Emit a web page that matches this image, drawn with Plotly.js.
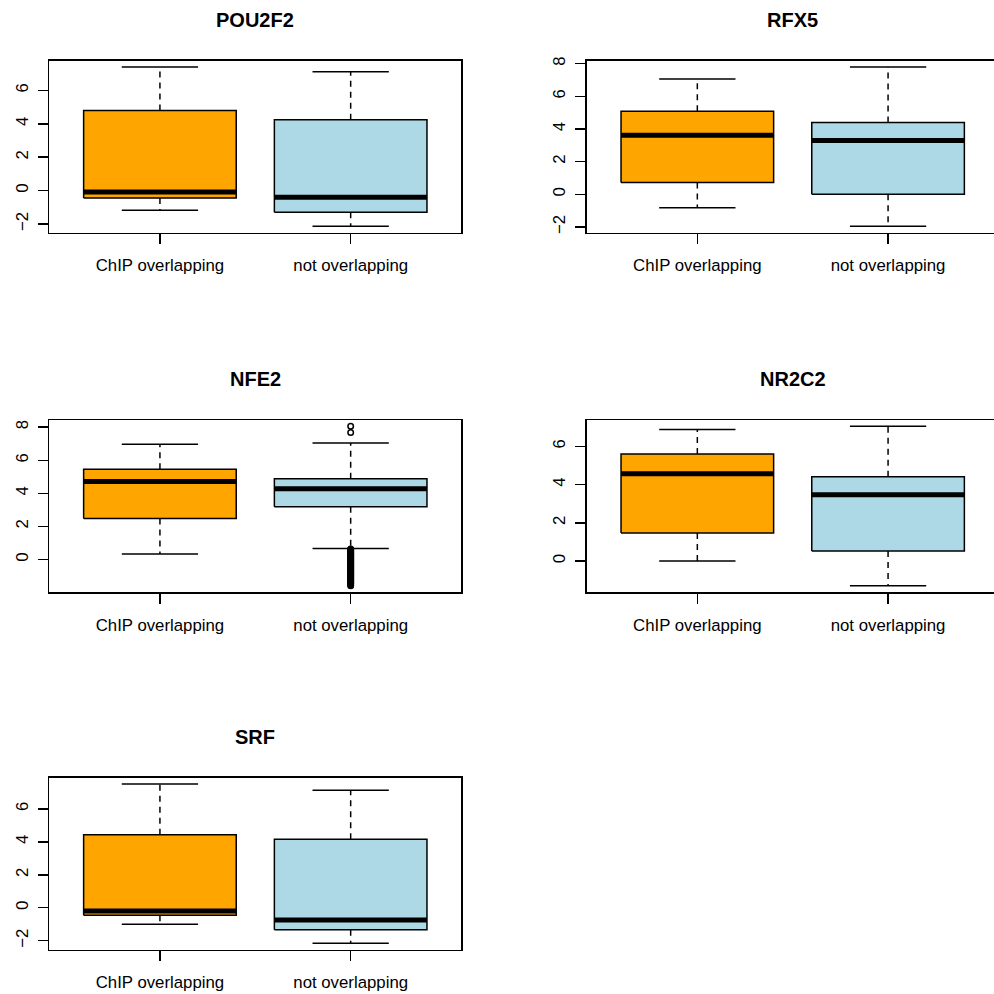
<!DOCTYPE html>
<html>
<head>
<meta charset="utf-8">
<script src="https://cdn.plot.ly/plotly-3.0.1.min.js"></script>
<style>
  html, body { margin: 0; padding: 0; background: #ffffff; }
  #chart { width: 994px; height: 994px; }
</style>
</head>
<body>
<div id="chart"></div>
<script>
// Expression of motif sites, split by ChIP overlap, for five transcription factors.
const factors = ["POU2F2", "RFX5", "NFE2", "NR2C2", "SRF"];
const groups = ["ChIP overlapping", "not overlapping"];
const groupColors = ["#FFA500", "#ADD8E6"];

// Box statistics per factor: [ChIP overlapping, not overlapping]
const lowerWhisker = [[-1.18, -2.14], [-0.83, -1.96], [0.33, 0.67], [0.00, -1.29], [-1.01, -2.16]];
const lowerHinge   = [[-0.44, -1.30], [0.72, 0.00], [2.48, 3.19], [1.47, 0.52], [-0.46, -1.33]];
const medians      = [[-0.08, -0.40], [3.62, 3.29], [4.71, 4.28], [4.57, 3.47], [-0.20, -0.75]];
const upperHinge   = [[4.80, 4.24], [5.09, 4.40], [5.45, 4.89], [5.60, 4.41], [4.42, 4.16]];
const upperWhisker = [[7.40, 7.12], [7.06, 7.79], [6.97, 7.05], [6.89, 7.05], [7.50, 7.13]];

// Outlying points (only NFE2, not overlapping, has any)
const nfe2NotOutliers = [8.05, 7.68,
  0.64, 0.60, 0.56, 0.52, 0.47, 0.43, 0.39, 0.34, 0.30, 0.27, 0.22, 0.18, 0.13, 0.10,
  0.05, 0.01, -0.03, -0.08, -0.12, -0.15, -0.20, -0.25, -0.28, -0.33, -0.37, -0.41,
  -0.46, -0.50, -0.53, -0.58, -0.62, -0.67, -0.71, -0.74, -0.79, -0.83, -0.88, -0.92,
  -0.95, -1.00, -1.04, -1.09, -1.13, -1.17, -1.21, -1.26, -1.30, -1.34, -1.39, -1.43,
  -1.47, -1.52, -1.58];
const outliers = [[[], []], [[], []], [[], nfe2NotOutliers], [[], []], [[], []]];

// Y tick labels per factor
const yTicks = [[-2, 0, 2, 4, 6], [-2, 0, 2, 4, 6, 8], [0, 2, 4, 6, 8], [0, 2, 4, 6], [-2, 0, 2, 4, 6]];

// ---- layout geometry (pixels) ----
const W = 994, H = 994;
const colLeft = [49.3, 586.7];
const plotW = 412;
const rowTop = [60.7, 420.0, 777.7];
const plotH = 172;
const xLo = 0.42, xHi = 2.58;
const pxPerUnit = plotW / (xHi - xLo);
const boxHalf = 0.4, capHalf = 0.2;

const tickFont = { family: "Liberation Sans, Arial, sans-serif", size: 16.8, color: "#000000" };
const lineW = 1.5;

const traces = [];
const layout = {
  width: W, height: H,
  margin: { l: 0, r: 0, t: 0, b: 0 },
  paper_bgcolor: "#ffffff",
  plot_bgcolor: "#ffffff",
  showlegend: false,
  annotations: []
};

factors.forEach((name, i) => {
  const col = i % 2, row = Math.floor(i / 2);
  const suffix = i === 0 ? "" : String(i + 1);
  const xa = "x" + suffix, ya = "y" + suffix;

  // data range extended by 4%
  let all = [];
  for (let g = 0; g < 2; g++) {
    all = all.concat([lowerWhisker[i][g], upperWhisker[i][g]], outliers[i][g]);
  }
  const lo = Math.min(...all), hi = Math.max(...all);
  const pad = 0.04 * (hi - lo);

  const x0 = colLeft[col] / W;
  const x1 = Math.min(1, (colLeft[col] + plotW) / W);
  const visibleW = (Math.min(W, colLeft[col] + plotW) - colLeft[col]);
  const yTop = rowTop[row], yBot = rowTop[row] + plotH;

  layout["xaxis" + suffix] = {
    domain: [x0, x1],
    anchor: ya,
    range: [xLo, xLo + visibleW / pxPerUnit],
    tickvals: [1, 2],
    ticktext: groups,
    ticks: "outside", ticklen: 10, tickwidth: lineW, tickcolor: "#000",
    showline: true, linecolor: "#000", linewidth: lineW, mirror: true,
    showgrid: false, zeroline: false, fixedrange: true,
    tickfont: tickFont, ticklabelstandoff: 7
  };
  layout["yaxis" + suffix] = {
    domain: [1 - yBot / H, 1 - yTop / H],
    anchor: xa,
    range: [lo - pad, hi + pad],
    tickvals: yTicks[i],
    ticktext: yTicks[i].map(v => v < 0 ? "\u2212" + Math.abs(v) : String(v)),
    tickangle: -90,
    ticks: "outside", ticklen: 10, tickwidth: lineW, tickcolor: "#000",
    showline: true, linecolor: "#000", linewidth: lineW, mirror: col === 0,
    showgrid: false, zeroline: false, fixedrange: true,
    tickfont: tickFont, ticklabelstandoff: 3
  };

  layout.annotations.push({
    text: "<b>" + name + "</b>",
    xref: "paper", yref: "paper",
    x: (colLeft[col] + plotW / 2) / W,
    y: 1 - (yTop - 41) / H,
    xanchor: "center", yanchor: "middle",
    showarrow: false,
    font: { family: "Liberation Sans, Arial, sans-serif", size: 20, color: "#000" }
  });

  // whiskers (dashed), drawn beneath the boxes
  const wx = [], wy = [];
  const cx = [], cy = [];
  for (let g = 0; g < 2; g++) {
    const c = g + 1;
    wx.push(c, c, null, c, c, null);
    wy.push(upperHinge[i][g], upperWhisker[i][g], null, lowerHinge[i][g], lowerWhisker[i][g], null);
    cx.push(c - capHalf, c + capHalf, null, c - capHalf, c + capHalf, null);
    cy.push(upperWhisker[i][g], upperWhisker[i][g], null, lowerWhisker[i][g], lowerWhisker[i][g], null);
  }
  traces.push({
    type: "scatter", mode: "lines", xaxis: xa, yaxis: ya, hoverinfo: "skip",
    x: wx, y: wy, line: { color: "#000", width: lineW, dash: "6px,5px" }
  });
  traces.push({
    type: "scatter", mode: "lines", xaxis: xa, yaxis: ya, hoverinfo: "skip",
    x: cx, y: cy, line: { color: "#000", width: lineW }
  });

  // boxes
  for (let g = 0; g < 2; g++) {
    const c = g + 1;
    traces.push({
      type: "scatter", mode: "lines", xaxis: xa, yaxis: ya, hoverinfo: "skip",
      x: [c - boxHalf, c + boxHalf, c + boxHalf, c - boxHalf, c - boxHalf],
      y: [lowerHinge[i][g], lowerHinge[i][g], upperHinge[i][g], upperHinge[i][g], lowerHinge[i][g]],
      fill: "toself", fillcolor: groupColors[g],
      line: { color: "#000", width: lineW }
    });
  }

  // medians
  const mx = [], my = [];
  for (let g = 0; g < 2; g++) {
    const c = g + 1;
    mx.push(c - boxHalf, c + boxHalf, null);
    my.push(medians[i][g], medians[i][g], null);
  }
  traces.push({
    type: "scatter", mode: "lines", xaxis: xa, yaxis: ya, hoverinfo: "skip",
    x: mx, y: my, line: { color: "#000", width: 5 }
  });

  // outliers
  for (let g = 0; g < 2; g++) {
    if (!outliers[i][g].length) continue;
    traces.push({
      type: "scatter", mode: "markers", xaxis: xa, yaxis: ya, hoverinfo: "skip",
      x: outliers[i][g].map(() => g + 1), y: outliers[i][g],
      marker: { symbol: "circle-open", size: 5.5, color: "#000", line: { width: 1.5, color: "#000" } },
      cliponaxis: false
    });
  }
});

Plotly.newPlot("chart", traces, layout, { displayModeBar: false, staticPlot: true });
</script>
</body>
</html>
